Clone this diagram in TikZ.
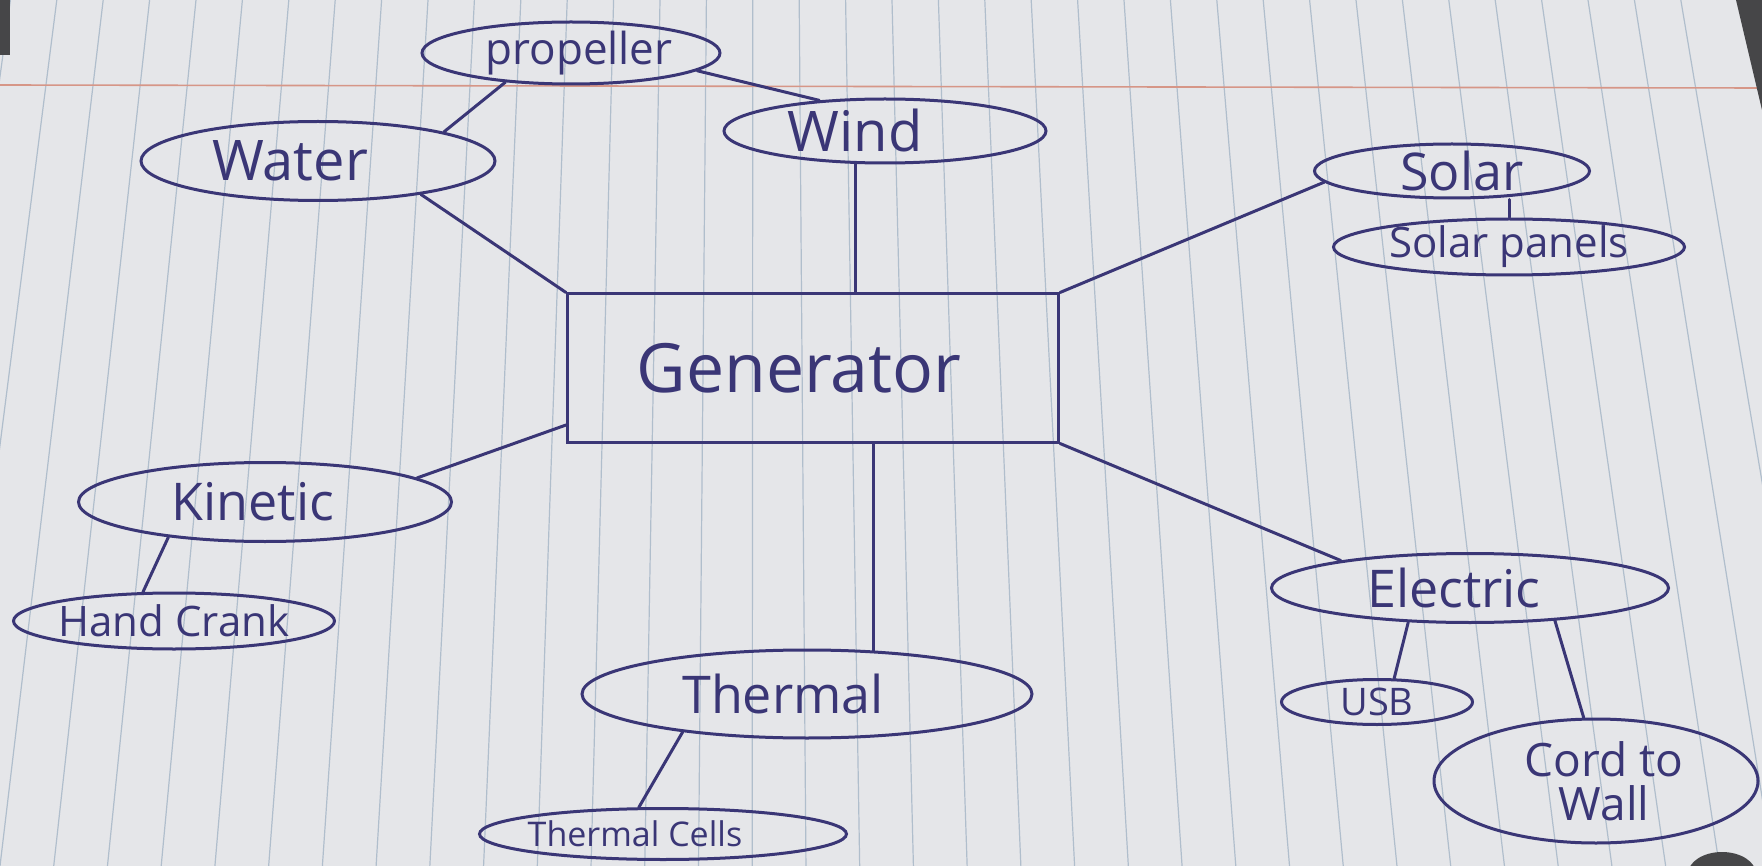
\documentclass[tikz,border=0pt]{standalone}
\usepackage{fontspec}
\setmainfont{Open Sans}
\usetikzlibrary{shapes.geometric}

\definecolor{ink}{RGB}{58,54,118}
\definecolor{paper}{RGB}{229,230,233}
\definecolor{rule}{RGB}{176,190,204}
\definecolor{margin}{RGB}{214,150,135}
\definecolor{desk}{RGB}{70,70,72}

\tikzset{
  bubble/.style={ellipse, draw=ink, inner sep=0pt},
  box/.style={rectangle, draw=ink, inner sep=0pt},
  tag/.style={text=ink, font=\fontsize{#1}{#1}\selectfont},
  tag/.default=26pt,
  link/.style={draw=ink, line cap=round}
}

\begin{document}
\begin{tikzpicture}
	[
	x=0.5pt, y=-0.5pt, line width=1.5pt
	%Pixelkoordinaten, y nach unten
	]
	
	%Papier
	\useasboundingbox (0,0) rectangle (1762,866);
	\clip (0,0) rectangle (1762,866);
	\fill[paper] (0,0) rectangle (1762,866);
	
	%Linien im Hintergrund
	\foreach \i in {-2,...,34}
	\draw[rule, line width=0.6pt] ({103.2+46.4*\i},0) -- ({53.73*\i},866);
	\draw[margin, line width=0.8pt] (0,85) -- (1762,88);
	
	%Rand
	\fill[desk] (1736,0) -- (1762,0) -- (1762,110) -- cycle;
	\fill[desk] (0,0) rectangle (10,55);
	\fill[desk] (1722,874) ellipse (34 and 22);
	
	%Mitte
	\node[box, minimum width=245.5pt, minimum height=74pt,
	label={[tag=34pt, xshift=-7pt]center:Generator}] (gen) at (813,368) {};
	
	%oben
	\node[bubble, minimum width=149pt, minimum height=31pt,
	label={[tag=22pt, xshift=4pt]center:propeller}] (prop) at (571,53) {};
	\node[bubble, minimum width=177pt, minimum height=39.5pt,
	label={[tag=28pt, xshift=-14pt]center:Water}] (water) at (318,161) {};
	\node[bubble, minimum width=161pt, minimum height=32pt,
	label={[tag=28pt, xshift=-15pt]center:Wind}] (wind) at (885,131) {};
	\node[bubble, minimum width=137.5pt, minimum height=27pt,
	label={[tag=26pt, xshift=5pt]center:Solar}] (solar) at (1452,171) {};
	\node[bubble, minimum width=175.5pt, minimum height=28pt,
	label={[tag=21pt]center:Solar panels}] (panels) at (1509,247) {};
	
	%unten
	\node[bubble, minimum width=186.5pt, minimum height=39.5pt,
	label={[tag=26pt, xshift=-6pt]center:Kinetic}] (kin) at (265,502) {};
	\node[bubble, minimum width=160.5pt, minimum height=28pt,
	label={[tag=21pt]center:Hand Crank}] (hand) at (174,621) {};
	\node[bubble, minimum width=225pt, minimum height=44pt,
	label={[tag=26pt, xshift=-12pt]center:Thermal}] (therm) at (807,694) {};
	\node[bubble, minimum width=183.5pt, minimum height=25.5pt,
	label={[tag=17pt, xshift=-14pt]center:Thermal Cells}] (cells) at (663,834) {};
	\node[bubble, minimum width=198.5pt, minimum height=34.5pt,
	label={[tag=26pt, xshift=-8pt]center:Electric}] (elec) at (1470,588) {};
	\node[bubble, minimum width=95.5pt, minimum height=22.5pt,
	label={[tag=19pt]center:USB}] (usb) at (1377,702) {};
	\node[bubble, minimum width=162pt, minimum height=62pt,
	label={[text=ink, font=\fontsize{23pt}{22pt}\selectfont, align=center, xshift=4pt]center:Cord to\\Wall}] (cord) at (1596,781) {};
	
	%Verbindungen
	\draw[link] (prop.204) -- (water.13);
	\draw[link] (prop.-8) -- (wind.155);
	\draw[link] (water.-18) -- (gen.north west);
	\draw[link] (wind.-132) -- (wind.-132 |- gen.north);
	\draw[link] (gen.north east) -- (solar.185);
	\draw[link] (panels.north) -- (panels.north |- solar.south);
	\draw[link] (gen.193) -- (kin.9);
	\draw[link] (kin.200) -- (hand.137);
	\draw[link] (therm.33 |- gen.south) -- (therm.33);
	\draw[link] (therm.197) -- (cells.132);
	\draw[link] (gen.south east) -- (elec.168);
	\draw[link] (elec.209) -- (usb.54);
	\draw[link] (elec.-21) -- (cord.101);
\end{tikzpicture}
\end{document}
